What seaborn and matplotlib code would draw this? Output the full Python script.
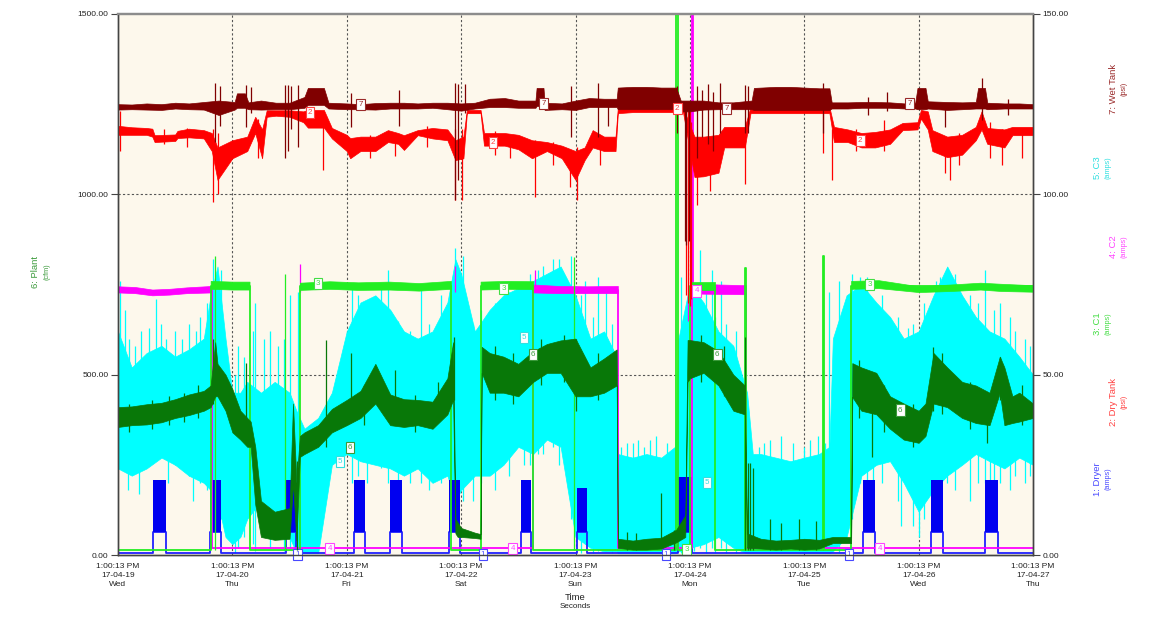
import numpy as np
import pandas as pd
import seaborn as sns
import matplotlib
matplotlib.use("Agg")
import matplotlib.pyplot as plt

# ---- data (time in days since 17-04-19 1:00:13 PM) ----
day_labels = ["1:00:13 PM\n17-04-19\nWed", "1:00:13 PM\n17-04-20\nThu", "1:00:13 PM\n17-04-21\nFri",
              "1:00:13 PM\n17-04-22\nSat", "1:00:13 PM\n17-04-23\nSun", "1:00:13 PM\n17-04-24\nMon",
              "1:00:13 PM\n17-04-25\nTue", "1:00:13 PM\n17-04-26\nWed", "1:00:13 PM\n17-04-27\nThu"]

# 6: Plant (cfm) -> (t, low, high)
plant = [(0.00, 355, 410), (0.12, 360, 412), (0.25, 362, 418), (0.38, 368, 422), (0.50, 380, 432),
         (0.62, 388, 445), (0.75, 400, 455), (0.81, 410, 470), (0.85, 440, 590), (0.87, 440, 530),
         (0.94, 400, 500), (1.00, 340, 460), (1.07, 320, 400), (1.13, 300, 380), (1.16, 300, 370),
         (1.20, 140, 300), (1.25, 50, 150), (1.37, 42, 120), (1.50, 45, 130), (1.53, 200, 420),
         (1.56, 40, 200), (1.59, 272, 330), (1.63, 280, 340), (1.75, 300, 360), (1.87, 340, 405),
         (2.00, 360, 430), (2.12, 380, 455), (2.25, 420, 530), (2.38, 360, 445), (2.50, 355, 432),
         (2.62, 360, 430), (2.75, 350, 425), (2.88, 390, 490), (2.93, 430, 590), (2.95, 60, 100),
         (2.97, 50, 90), (3.00, 50, 75), (3.12, 47, 62), (3.17, 45, 58), (3.18, 505, 577),
         (3.25, 450, 560), (3.37, 450, 550), (3.50, 440, 530), (3.63, 480, 565), (3.75, 505, 585),
         (3.87, 505, 595), (4.00, 440, 600), (4.13, 440, 520), (4.25, 450, 545), (4.36, 470, 570),
         (4.37, 20, 45), (4.50, 15, 40), (4.62, 15, 45), (4.75, 18, 48), (4.88, 35, 70),
         (4.96, 50, 110), (4.98, 480, 596), (5.00, 490, 596), (5.12, 505, 590), (5.25, 470, 565),
         (5.38, 400, 500), (5.48, 390, 470), (5.50, 20, 60), (5.62, 18, 45), (5.75, 15, 40),
         (5.88, 18, 42), (6.00, 15, 45), (6.13, 18, 42), (6.25, 33, 50), (6.41, 33, 50),
         (6.42, 438, 532), (6.50, 400, 520), (6.63, 390, 505), (6.75, 350, 440), (6.87, 320, 420),
         (7.00, 311, 400), (7.06, 330, 420), (7.13, 420, 560), (7.25, 410, 520), (7.38, 380, 480),
         (7.50, 366, 470), (7.62, 360, 450), (7.71, 450, 550), (7.75, 360, 520), (7.82, 366, 440),
         (7.88, 370, 450), (8.00, 380, 420)]
plant_spikes = [(0.10, 340, 420), (0.30, 350, 430), (0.45, 360, 440), (0.58, 370, 450), (0.70, 380, 470),
                (0.83, 420, 600), (1.12, 330, 532), (1.565, 14, 260), (1.82, 300, 596), (2.04, 380, 560),
                (2.15, 360, 470), (2.42, 360, 513), (2.60, 340, 445), (2.80, 370, 480), (2.94, 430, 604),
                (3.30, 430, 580), (3.45, 420, 560), (3.70, 470, 600), (3.90, 480, 610), (4.00, 400, 600),
                (4.20, 430, 560), (4.45, 15, 65), (4.53, 15, 60), (4.75, 20, 172), (4.86, 15, 69),
                (5.10, 480, 610), (5.30, 440, 580), (5.48, 14, 604), (5.51, 14, 255), (5.53, 14, 255),
                (5.55, 14, 240), (5.70, 15, 100), (5.80, 15, 90), (5.95, 15, 100), (6.10, 15, 95),
                (6.48, 380, 540), (6.59, 272, 450), (6.70, 340, 470), (6.95, 300, 420), (7.13, 400, 577),
                (7.20, 390, 560), (7.45, 350, 480), (7.60, 311, 430), (7.71, 430, 550), (7.90, 360, 470)]

# 5: C3 (amps)
c3 = [(0.00, 24, 62), (0.12, 22, 52), (0.25, 24, 56), (0.38, 27, 58), (0.50, 25, 55), (0.62, 22, 57),
      (0.75, 20, 60), (0.81, 18, 72), (0.87, 15, 80), (0.94, 5, 60), (1.00, 3, 45), (1.07, 5, 45),
      (1.13, 10, 48), (1.25, 15, 45), (1.37, 12, 48), (1.50, 5, 45), (1.56, 0.5, 40), (1.63, 0.5, 35),
      (1.75, 0.5, 38), (1.87, 25, 45), (2.00, 28, 62), (2.12, 26, 70), (2.25, 25, 72), (2.38, 24, 68),
      (2.50, 22, 62), (2.62, 24, 60), (2.75, 20, 62), (2.88, 22, 70), (2.95, 15, 82), (3.00, 18, 78),
      (3.12, 22, 62), (3.25, 22, 68), (3.37, 25, 72), (3.50, 30, 74), (3.63, 28, 76), (3.75, 32, 78),
      (3.87, 30, 80), (4.00, 5, 72), (4.13, 2, 60), (4.25, 1, 62), (4.36, 1, 55), (4.37, 0.5, 28),
      (4.50, 0.5, 27), (4.62, 0.5, 28), (4.75, 0.5, 27), (4.87, 0.5, 30), (4.90, 1, 60), (5.00, 2, 75),
      (5.12, 3, 70), (5.25, 5, 62), (5.38, 2, 58), (5.50, 0.5, 45), (5.55, 0.5, 28), (5.62, 0.5, 28),
      (5.75, 0.5, 27), (5.88, 0.5, 26), (6.00, 0.5, 27), (6.13, 0.5, 28), (6.22, 0.5, 30), (6.25, 1, 60),
      (6.37, 5, 72), (6.50, 22, 75), (6.63, 25, 70), (6.75, 26, 66), (6.87, 20, 60), (7.00, 12, 62),
      (7.13, 18, 72), (7.25, 22, 80), (7.38, 25, 72), (7.50, 28, 66), (7.62, 26, 62), (7.75, 24, 60),
      (7.88, 27, 55), (8.00, 25, 50)]
c3_spikes = [(0.02, 30, 76), (0.06, 35, 68), (0.09, 18, 30), (0.10, 30, 60), (0.15, 28, 58), (0.18, 17, 30),
             (0.20, 24, 62), (0.27, 25, 63), (0.33, 30, 71), (0.38, 30, 64), (0.42, 28, 60), (0.44, 20, 30),
             (0.50, 25, 62), (0.56, 25, 60), (0.62, 22, 64), (0.66, 15, 28), (0.68, 22, 62), (0.72, 20, 66),
             (0.78, 18, 70), (0.83, 18, 82), (0.90, 10, 79), (1.02, 0.5, 50), (1.05, 2, 58), (1.10, 5, 55),
             (1.18, 3, 62), (1.20, 1, 70), (1.28, 8, 60), (1.33, 2, 62), (1.40, 5, 58), (1.45, 1, 60),
             (1.50, 2, 72), (1.57, 0.5, 73), (2.05, 20, 74), (2.10, 22, 72), (2.18, 20, 70), (2.30, 24, 75),
             (2.36, 20, 79), (2.45, 15, 65), (2.55, 20, 62), (2.65, 20, 75), (2.72, 18, 64), (2.82, 20, 72),
             (2.95, 15, 85), (3.02, 15, 83), (3.10, 15, 64), (3.17, 20, 68), (3.30, 18, 70), (3.42, 22, 73),
             (3.55, 25, 72), (3.60, 25, 78), (3.67, 28, 79), (3.72, 28, 80), (3.80, 30, 82), (3.86, 25, 82),
             (3.96, 10, 83), (4.05, 0.5, 72), (4.08, 3, 76), (4.15, 0.5, 66), (4.20, 1, 77), (4.27, 1, 74),
             (4.32, 0.5, 64), (4.40, 0.5, 30), (4.45, 0.5, 31), (4.50, 0.5, 31), (4.55, 0.5, 32),
             (4.60, 0.5, 30), (4.65, 0.5, 32), (4.70, 0.5, 33), (4.80, 0.5, 31), (4.92, 0.5, 77),
             (5.02, 0.5, 70), (5.04, 1, 72), (5.09, 2, 84.6), (5.14, 0.5, 74), (5.19, 2, 79), (5.22, 0.5, 66),
             (5.27, 2, 76), (5.32, 0.5, 64), (5.40, 0.5, 62), (5.48, 0.5, 73), (5.60, 0.5, 30),
             (5.65, 0.5, 31), (5.70, 0.5, 32), (5.80, 0.5, 33), (5.90, 0.5, 31), (6.00, 0.5, 30),
             (6.05, 0.5, 32), (6.12, 0.5, 33), (6.18, 0.5, 31), (6.22, 1, 73), (6.30, 0.5, 76),
             (6.42, 10, 78), (6.49, 20, 77), (6.55, 18, 77), (6.60, 20, 65), (6.68, 20, 72), (6.82, 15, 66),
             (6.85, 8, 30), (6.91, 18, 63), (6.95, 8, 64), (7.00, 5, 25), (7.05, 10, 70), (7.15, 15, 76),
             (7.19, 20, 77), (7.25, 20, 79), (7.32, 18, 78), (7.45, 15, 72), (7.52, 20, 70), (7.58, 20, 79),
             (7.62, 10, 30), (7.66, 18, 68), (7.71, 20, 70), (7.80, 18, 66), (7.84, 22, 62), (7.93, 20, 60),
             (7.97, 22, 58)]

# 7: Wet Tank (psi)
wet = [(0.00, 123.5, 125.0), (0.12, 123.6, 124.9), (0.25, 123.5, 125.2), (0.38, 123.4, 125.0),
       (0.50, 123.8, 125.4), (0.62, 123.6, 125.2), (0.75, 123.5, 125.6), (0.88, 122.0, 126.0),
       (1.02, 123.5, 125.6), (1.04, 124.0, 128.0), (1.11, 124.0, 128.0), (1.14, 123.6, 125.5),
       (1.25, 123.5, 126.0), (1.38, 123.6, 125.4), (1.50, 123.6, 125.4), (1.63, 124.0, 127.0),
       (1.66, 124.8, 129.5), (1.80, 124.8, 129.5), (1.84, 123.8, 125.4), (2.00, 123.6, 125.2),
       (2.12, 123.6, 125.0), (2.25, 123.5, 125.3), (2.38, 123.8, 125.4), (2.50, 123.8, 125.4),
       (2.62, 123.8, 125.2), (2.75, 124.0, 125.4), (2.88, 123.6, 125.4), (3.00, 123.2, 125.2),
       (3.12, 123.8, 125.4), (3.25, 124.2, 126.5), (3.38, 124.2, 126.7), (3.50, 124.0, 126.0),
       (3.65, 124.0, 126.0), (3.66, 124.5, 129.5), (3.72, 124.5, 129.5), (3.73, 123.4, 125.4),
       (3.88, 123.6, 125.2), (4.00, 123.4, 126.0), (4.12, 124.2, 126.7), (4.25, 124.2, 126.5),
       (4.36, 124.2, 126.5), (4.37, 123.6, 129.6), (4.50, 123.6, 129.8), (4.62, 123.6, 129.8),
       (4.75, 123.6, 129.6), (4.88, 123.6, 129.6), (4.92, 123.0, 126.0), (5.00, 123.0, 126.0),
       (5.12, 123.5, 126.0), (5.25, 123.6, 125.5), (5.38, 123.6, 125.5), (5.54, 123.6, 126.0),
       (5.56, 123.4, 129.5), (5.75, 123.4, 129.8), (5.88, 123.4, 129.8), (6.00, 123.4, 129.6),
       (6.13, 123.4, 129.4), (6.22, 123.4, 129.4), (6.24, 123.8, 125.5), (6.38, 123.8, 125.5),
       (6.50, 124.0, 125.6), (6.62, 124.0, 125.6), (6.75, 124.0, 125.5), (6.88, 123.8, 125.2),
       (6.97, 123.8, 125.4), (6.99, 123.6, 129.5), (7.06, 123.6, 129.5), (7.08, 123.8, 125.8),
       (7.25, 123.4, 125.6), (7.38, 123.6, 125.5), (7.50, 123.8, 125.6), (7.52, 123.8, 129.5),
       (7.58, 123.8, 129.5), (7.60, 123.6, 125.4), (7.75, 123.8, 125.2), (7.88, 123.8, 125.2),
       (8.00, 123.8, 125.0)]
wet_spikes = [(0.85, 114.5, 130.9), (0.89, 119, 130), (1.12, 118.6, 130.3), (1.16, 122.5, 129.8),
              (1.46, 110, 130.3), (1.49, 112, 130.3), (1.51, 118, 130), (1.57, 113, 130.3),
              (2.04, 118.6, 128), (2.46, 119, 129), (2.95, 98.4, 131), (2.97, 104, 130.5),
              (3.03, 122.5, 130.5), (3.96, 116, 130), (4.20, 116, 131), (4.28, 119, 125),
              (4.89, 117, 130), (4.96, 87, 124.5), (4.97, 86, 124), (4.99, 87, 124),
              (5.06, 110, 130), (5.11, 116, 129), (5.16, 114, 130.5), (5.20, 112, 128.5),
              (5.26, 117, 131), (5.48, 117, 130.3), (5.51, 117, 130), (6.16, 117, 131),
              (6.56, 122, 127), (6.72, 123, 128.5), (7.23, 118.6, 125.3), (7.55, 120.6, 132.2),
              (7.78, 122, 126.5)]

# 2: Dry Tank (psi)
dry = [(0.00, 116.5, 119.0), (0.12, 116.5, 118.6), (0.25, 116.5, 118.4), (0.30, 116.0, 118.2),
       (0.32, 114.5, 116.4), (0.50, 114.8, 116.6), (0.52, 115.6, 117.6), (0.62, 115.8, 118.2),
       (0.75, 115.5, 117.8), (0.82, 112.0, 117.0), (0.87, 104.0, 113.0), (1.00, 110.0, 115.0),
       (1.13, 112.0, 116.0), (1.20, 117.0, 121.5), (1.26, 110.0, 118.0), (1.30, 121.5, 123.3),
       (1.38, 121.8, 123.3), (1.50, 121.5, 123.3), (1.62, 120.0, 123.0), (1.66, 118.5, 123.4),
       (1.80, 118.5, 123.4), (1.87, 115.5, 118.4), (2.00, 112.0, 116.5), (2.03, 110.0, 115.6),
       (2.12, 112.0, 116.0), (2.25, 112.0, 116.0), (2.36, 114.5, 117.8), (2.45, 114.0, 117.0),
       (2.50, 112.3, 116.4), (2.62, 116.4, 117.8), (2.75, 115.5, 118.4), (2.88, 115.0, 118.0),
       (2.95, 109.5, 115.0), (3.02, 110.0, 116.0), (3.05, 122.5, 123.4), (3.17, 122.5, 123.4),
       (3.20, 113.5, 117.0), (3.38, 113.5, 117.0), (3.50, 112.5, 116.5), (3.62, 110.0, 115.0),
       (3.75, 112.0, 114.5), (3.88, 110.0, 113.5), (4.00, 104.0, 112.0), (4.08, 109.5, 113.0),
       (4.15, 113.0, 117.8), (4.25, 112.0, 116.0), (4.35, 112.0, 116.0), (4.37, 122.5, 124.0),
       (4.50, 122.8, 124.0), (4.62, 122.8, 124.0), (4.75, 122.8, 124.0), (4.94, 122.8, 124.0),
       (5.04, 104.8, 116.0), (5.12, 105.0, 116.0), (5.25, 106.0, 116.5), (5.30, 113.0, 118.7),
       (5.48, 113.0, 118.7), (5.53, 122.5, 124.2), (5.75, 122.5, 124.2), (5.88, 122.5, 124.2),
       (6.00, 122.5, 124.2), (6.22, 122.5, 124.2), (6.26, 114.5, 118.7), (6.38, 114.5, 118.0),
       (6.50, 113.0, 117.0), (6.62, 113.0, 117.3), (6.75, 114.0, 118.0), (6.86, 117.8, 119.8),
       (6.99, 118.0, 120.0), (7.02, 121.0, 123.4), (7.08, 118.0, 123.0), (7.12, 112.0, 117.8),
       (7.25, 110.3, 116.0), (7.38, 111.0, 116.5), (7.50, 115.0, 118.7), (7.55, 118.0, 123.0),
       (7.60, 114.0, 118.4), (7.75, 113.0, 118.0), (7.82, 116.4, 118.7), (8.00, 116.4, 118.7)]
dry_spikes = [(0.02, 112, 123), (0.40, 114, 118), (0.60, 113, 118.5), (0.83, 98, 118), (0.87, 100, 117),
              (1.22, 110, 121), (1.79, 106.7, 123), (2.20, 110, 116.5), (2.42, 110.5, 117), (2.70, 113, 119),
              (2.95, 98.4, 118), (3.01, 98.4, 118), (3.30, 111, 117.5), (3.43, 110, 116), (3.65, 99.3, 115),
              (3.80, 108, 114.5), (3.95, 102, 112), (4.01, 98.4, 113), (4.21, 108, 116), (4.97, 72, 123),
              (4.98, 70, 123), (5.00, 69, 123), (5.01, 71, 120), (5.06, 97, 116), (5.18, 101, 116),
              (5.48, 103, 118.7), (6.16, 111.5, 124), (6.24, 104, 118), (6.45, 112, 118), (6.70, 112, 120.6),
              (7.23, 106, 116), (7.27, 104, 116), (7.35, 108, 117), (7.62, 110, 120), (7.73, 108, 118),
              (7.90, 110, 118)]

# 3: C1 (amps) - step levels and the loaded band
c1_steps_t = [0.00, 0.81, 1.15, 1.59, 2.91, 3.17, 3.63, 4.88, 4.90, 5.00, 5.22, 5.48, 5.49, 6.16, 6.17, 6.41, 8.00]
c1_steps_v = [1.4, 74.5, 1.4, 74.5, 1.4, 74.5, 1.4, 160, 1.4, 74.5, 1.4, 79.6, 1.4, 83, 1.4, 74.5, 74.5]
c1_band = [[(0.81, 73.8, 76.0), (1.00, 73.6, 75.8), (1.15, 73.6, 75.8)],
           [(1.59, 73.5, 75.5), (1.85, 73.8, 75.9), (2.10, 73.5, 75.6), (2.37, 73.6, 75.8),
            (2.63, 73.3, 75.4), (2.91, 73.8, 76.0)],
           [(3.17, 73.6, 75.8), (3.40, 73.8, 76.0), (3.63, 73.7, 75.9)],
           [(5.00, 73.5, 75.8), (5.22, 73.5, 75.8)],
           [(6.41, 73.8, 76.0), (6.65, 74.0, 76.2), (7.00, 72.9, 74.5), (7.28, 73.2, 75.0),
            (7.54, 73.6, 75.5), (7.72, 73.2, 75.2), (8.00, 73.0, 74.8)]]
c1_spikes = [(0.85, 1.4, 83), (1.46, 1.4, 78), (3.99, 1.4, 82.6)]

# 4: C2 (amps)
c2_steps_t = [0.00, 0.82, 3.63, 4.37, 5.02, 5.03, 5.49, 8.00]
c2_steps_v = [73.3, 1.9, 73.5, 1.9, 160, 73.5, 1.9, 1.9]
c2_band = [[(0.00, 72.8, 74.5), (0.15, 72.6, 74.3), (0.30, 72.0, 73.6), (0.45, 72.2, 73.8),
            (0.60, 72.6, 74.2), (0.82, 72.8, 74.6)],
           [(3.63, 72.8, 75.0), (3.85, 72.6, 74.6), (4.10, 72.6, 74.5), (4.37, 72.6, 74.6)],
           [(5.03, 72.5, 75.3), (5.25, 72.4, 75.0), (5.49, 72.3, 74.8)]]
c2_spikes = [(1.59, 73, 80.7), (2.95, 73, 80), (3.65, 73, 79), (4.98, 65, 75)]

# 1: Dryer (amps) - cycling blocks
dryer_start = [0.31, 0.80, 1.47, 2.06, 2.38, 2.89, 3.52, 4.01, 4.90, 6.51, 7.11, 7.58]
dryer_end = [0.42, 0.90, 1.56, 2.16, 2.48, 2.99, 3.61, 4.10, 5.02, 6.62, 7.21, 7.69]
dryer_top = [20.8, 20.8, 20.8, 20.8, 20.8, 20.8, 20.8, 18.5, 21.6, 20.8, 20.8, 20.8]
dryer_low, dryer_base = 6.4, 0.5

# label boxes (series number, times, values)
markers = {
    "1": ([1.57, 3.19, 4.79, 6.39], [0.2, 0.2, 0.2, 0.2]),
    "2": ([1.68, 3.28, 4.89, 6.49], [122.8, 114.5, 123.9, 114.8]),
    "3": ([1.75, 3.37, 4.97, 6.57], [75.4, 74.0, 1.4, 74.9]),
    "4": ([1.85, 3.45, 5.06, 6.66], [1.7, 1.7, 73.2, 1.7]),
    "5": ([1.94, 3.55, 5.15, 6.75], [25.8, 60.2, 20.0, 40.8]),
    "7": ([2.12, 3.72, 5.32, 6.92], [124.8, 125.3, 123.9, 125.3]),
}
plant_markers = ([2.03, 3.63, 5.24, 6.84], [299, 557, 555, 402])

colors = {"1": "#0000F0", "2": "#FF0000", "3": "#22EE22", "4": "#FF00FF",
          "5": "#00FFFF", "6": "#087808", "7": "#800000"}
label_colors = {"1": "#4848FF", "2": "#FF4040", "3": "#44DD44", "4": "#FF44FF",
                "5": "#30E0E0", "6": "#3A9A3A", "7": "#9A2A2A"}
cream = "#FDF8EC"

# ---- figure ----
sns.set_style("white")
plt.rcParams['font.family'] = ['Liberation Sans', 'DejaVu Sans']

W, H = 1167, 639
fig = plt.figure(figsize=(W / 100, H / 100), dpi=100)
fig.patch.set_facecolor("white")
L, R, T, B = 118, 1033, 14, 555
ax = fig.add_axes([L / W, 1 - B / H, (R - L) / W, (B - T) / H])
ax2 = ax.twinx()
ax.set_zorder(ax2.get_zorder() + 1)
ax.patch.set_visible(False)
ax2.patch.set_visible(True)
ax2.patch.set_facecolor(cream)

ax.set_xlim(0, 8)
ax.set_ylim(0, 1500)
ax2.set_ylim(0, 150)

# grid (under the data)
for d in range(1, 8):
    ax2.axvline(d, color="#555555", lw=0.8, ls=(0, (2, 2)), zorder=0.5)
for v in (50, 100):
    ax2.axhline(v, color="#555555", lw=0.8, ls=(0, (2, 2)), zorder=0.5)


def split(rows):
    return [np.array(c, dtype=float) for c in zip(*rows)]


def band(axis, rows, color, z):
    t, lo, hi = split(rows)
    axis.fill_between(t, lo, hi, color=color, ec=color, lw=0.5, zorder=z)


def spikes(axis, rows, color, z, lw=0.9):
    t, lo, hi = split(rows)
    axis.vlines(t, lo, hi, color=color, lw=lw, zorder=z)


# 5: C3
band(ax2, c3, colors["5"], 2.0)
spikes(ax2, c3_spikes, colors["5"], 2.0)

# 1: Dryer
dt, dv = [0.0], [dryer_base]
for s, e in zip(dryer_start, dryer_end):
    dt += [s, s, e, e]
    dv += [dryer_base, dryer_low, dryer_low, dryer_base]
dt.append(8.0)
dv.append(dryer_base)
sns.lineplot(x=dt, y=dv, estimator=None, sort=False, color="#2020FF", lw=1.3, ax=ax2, zorder=2.2)
for s, e, top in zip(dryer_start, dryer_end, dryer_top):
    ax2.fill_between([s, e], dryer_low, top, color=colors["1"], lw=0, zorder=2.2)

# 4: C2
sns.lineplot(x=c2_steps_t, y=c2_steps_v, estimator=None, sort=False, drawstyle="steps-post",
             color=colors["4"], lw=1.3, ax=ax2, zorder=2.4)
for seg in c2_band:
    band(ax2, seg, colors["4"], 2.4)
spikes(ax2, c2_spikes, colors["4"], 2.4)

# 3: C1
sns.lineplot(x=c1_steps_t, y=c1_steps_v, estimator=None, sort=False, drawstyle="steps-post",
             color=colors["3"], lw=1.3, ax=ax2, zorder=2.6)
for seg in c1_band:
    band(ax2, seg, colors["3"], 2.6)
spikes(ax2, c1_spikes, colors["3"], 2.6)

# 2: Dry Tank, 7: Wet Tank
band(ax2, dry, colors["2"], 2.8)
spikes(ax2, dry_spikes, colors["2"], 2.8)
band(ax2, wet, colors["7"], 3.0)
spikes(ax2, wet_spikes, colors["7"], 3.0)

# 6: Plant on the left axis
band(ax, plant, colors["6"], 2.0)
spikes(ax, plant_spikes, colors["6"], 2.0)

# numbered boxes
box = dict(fontsize=5.8, ha="center", va="center", zorder=10)
for key, (ts, vs) in markers.items():
    for t, v in zip(ts, vs):
        ax2.text(t, v, key, color=label_colors[key],
                 bbox=dict(boxstyle="square,pad=0.25", fc="white", ec=label_colors[key], lw=0.8), **box)
for t, v in zip(*plant_markers):
    ax.text(t, v, "6", color=label_colors["6"],
            bbox=dict(boxstyle="square,pad=0.25", fc="white", ec=label_colors["6"], lw=0.8), **box)

# axes / ticks
ax.set_xticks(range(9))
ax.set_xticklabels(day_labels, linespacing=1.4)
ax.set_yticks([0, 500, 1000, 1500])
ax.set_yticklabels([f"{v:.2f}" for v in (0, 500, 1000, 1500)])
ax2.set_yticks([0, 50, 100, 150])
ax2.set_yticklabels([f"{v:.2f}" for v in (0, 50, 100, 150)])
for a in (ax, ax2):
    a.tick_params(direction="out", length=5, width=0.8, color="#444444",
                  labelsize=6, labelcolor="#222222", pad=2)
    a.set_xlabel("")
    a.set_ylabel("")
    for side, sp in a.spines.items():
        sp.set_color("#444444")
        sp.set_linewidth(1.0)
    a.spines["top"].set_color("#8C8C8C")
    a.spines["top"].set_linewidth(1.6)
ax.tick_params(axis="x", length=4, pad=2)

fig.text(575.5 / W, 1 - 597 / H, "Time", ha="center", va="center", fontsize=6.8, color="#222222")
fig.text(575.5 / W, 1 - 607 / H, "Seconds", ha="center", va="center", fontsize=5.8, color="#222222")

# axis titles
fig.text(36 / W, 1 - 272 / H, "6: Plant", rotation=90, ha="center", va="center",
         fontsize=6.8, color=label_colors["6"])
fig.text(47 / W, 1 - 272 / H, "(cfm)", rotation=90, ha="center", va="center",
         fontsize=5.2, color=label_colors["6"])
right_titles = [("7: Wet Tank", "(psi)", 1113, 89, "7"), ("5: C3", "(amps)", 1097, 168, "5"),
                ("4: C2", "(amps)", 1113, 247, "4"), ("3: C1", "(amps)", 1097, 324, "3"),
                ("2: Dry Tank", "(psi)", 1113, 402, "2"), ("1: Dryer", "(amps)", 1097, 479, "1")]
for name, unit, x, y, key in right_titles:
    fig.text(x / W, 1 - y / H, name, rotation=90, ha="center", va="center",
             fontsize=6.8, color=label_colors[key])
    fig.text((x + 11) / W, 1 - y / H, unit, rotation=90, ha="center", va="center",
             fontsize=5.2, color=label_colors[key])

fig.savefig("out.png", dpi=100, facecolor="white")
